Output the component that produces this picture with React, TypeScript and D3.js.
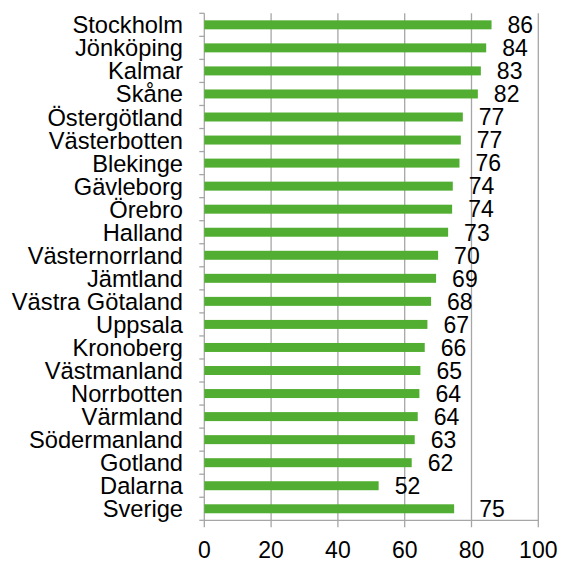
import React from "react";
import * as d3 from "d3";

const categories = [
  "Stockholm", "Jönköping", "Kalmar", "Skåne", "Östergötland", "Västerbotten",
  "Blekinge", "Gävleborg", "Örebro", "Halland", "Västernorrland", "Jämtland",
  "Västra Götaland", "Uppsala", "Kronoberg", "Västmanland", "Norrbotten",
  "Värmland", "Södermanland", "Gotland", "Dalarna", "Sverige",
];
const values = [
  86.0, 84.4, 82.8, 81.9, 77.4, 76.8,
  76.4, 74.4, 74.2, 73.0, 70.0, 69.4,
  67.9, 66.8, 66.0, 64.7, 64.4,
  63.9, 63.0, 62.1, 52.2, 74.8,
];
const xTicks = [0, 20, 40, 60, 80, 100];

const W = 561;
const H = 561;
const left = 204.3;
const right = 538.3;
const top = 13.3;
const bottom = 520.3;
const FONT = "'Liberation Sans', Arial, sans-serif";
const GREEN = "#52ae32";
const GRID = "#a6a6a6";

export default function App() {
  const x = d3.scaleLinear().domain([0, 100]).range([left, right]);
  const y = d3.scaleBand<string>().domain(categories).range([top, bottom]).paddingInner(0.61).paddingOuter(0.305);
  const band = (bottom - top) / categories.length;
  const boundaries = d3.range(categories.length + 1).map((i) => top + i * band);

  return (
    <div style={{ position: "absolute", left: 0, top: 0 }}>
      <svg width={W} height={H} style={{ display: "block", background: "#fff" }}>
        {xTicks.map((t) => (
          <line key={"g" + t} x1={x(t)} x2={x(t)} y1={top} y2={bottom + 7} stroke={GRID} strokeWidth={1.3} />
        ))}
        <line x1={left} x2={right} y1={bottom} y2={bottom} stroke={GRID} strokeWidth={1.3} />
        {boundaries.map((b, i) => (
          <line key={"t" + i} x1={left - 5} x2={left} y1={b} y2={b} stroke={GRID} strokeWidth={1.3} />
        ))}
        {categories.map((c, i) => {
          const yc = (y(c) as number) + y.bandwidth() / 2;
          const v = values[i];
          const off = i === categories.length - 1 ? 25 : 16;
          return (
            <g key={c}>
              <rect x={x(0)} y={y(c)} width={x(v) - x(0)} height={y.bandwidth()} fill={GREEN} />
              <text x={183} y={yc} dy="0.36em" textAnchor="end" fontFamily={FONT} fontSize={23.7} fill="#000">
                {c}
              </text>
              <text x={x(v) + off} y={yc} dy="0.36em" textAnchor="start" fontFamily={FONT} fontSize={23} fill="#000">
                {Math.round(v)}
              </text>
            </g>
          );
        })}
        {xTicks.map((t) => (
          <text key={"l" + t} x={x(t)} y={558} textAnchor="middle" fontFamily={FONT} fontSize={23} fill="#000">
            {t}
          </text>
        ))}
      </svg>
    </div>
  );
}
